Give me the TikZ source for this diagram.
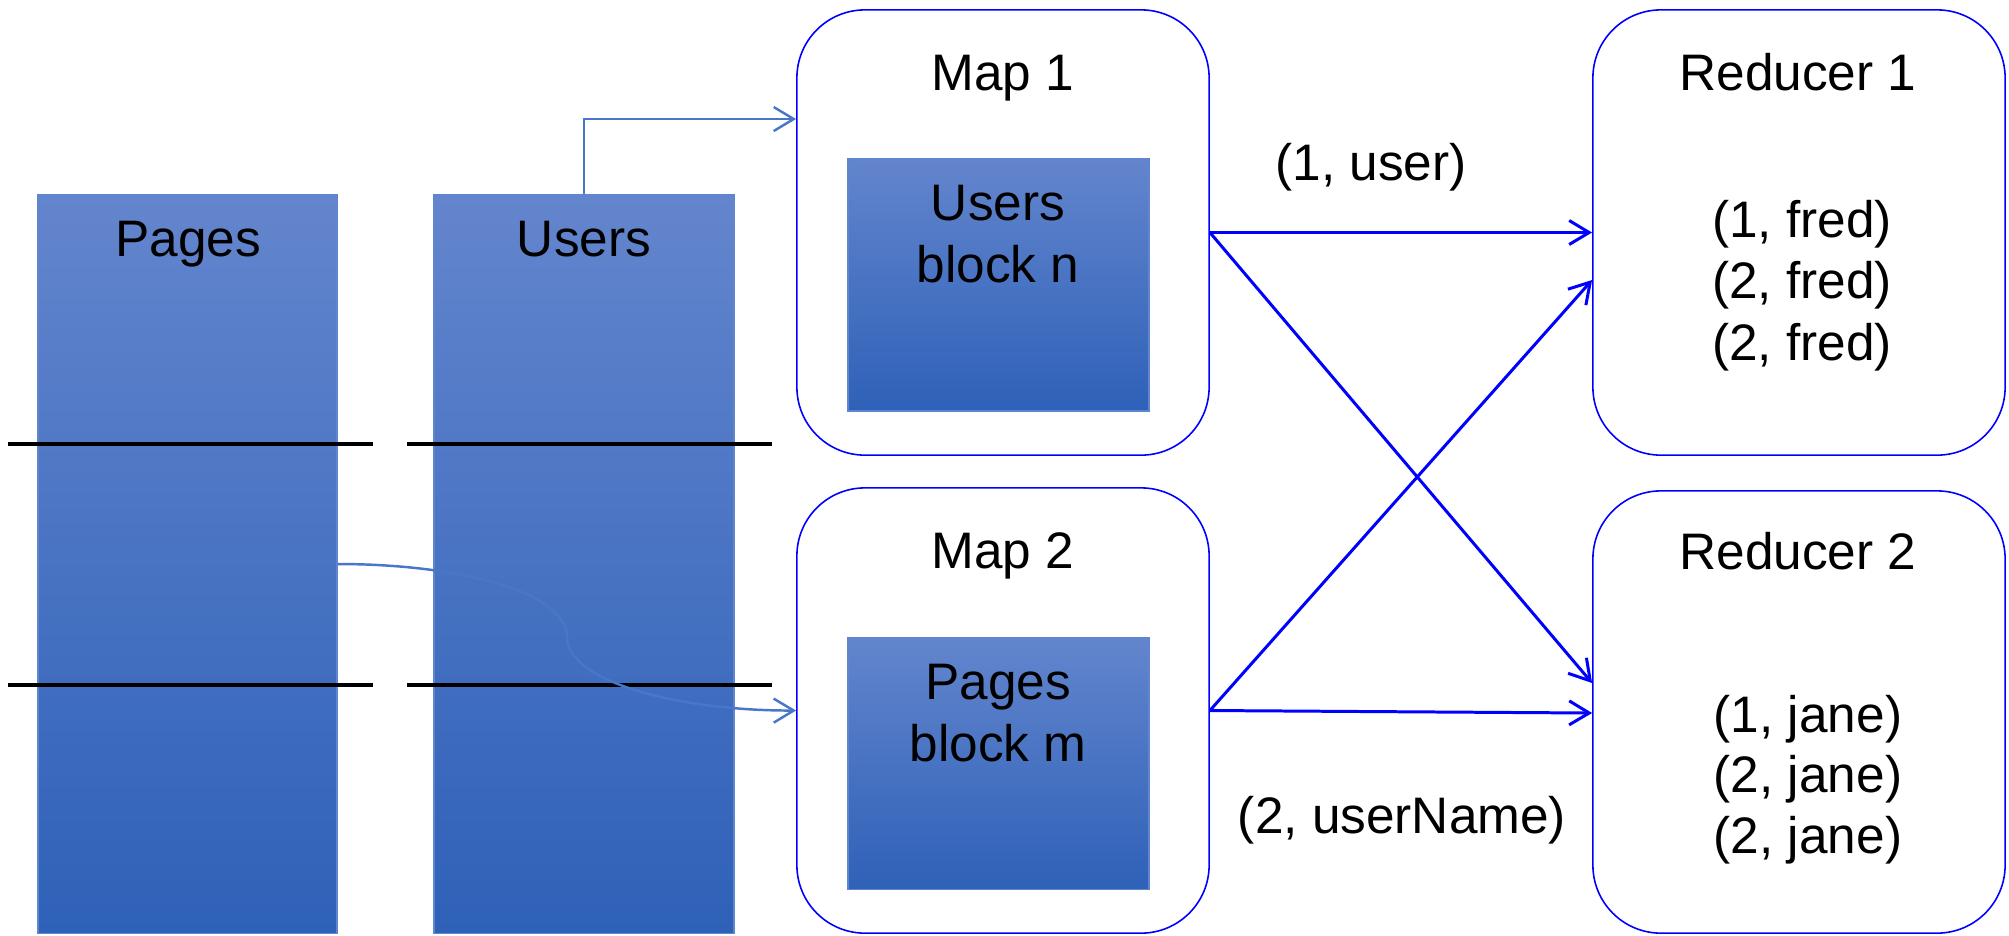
\documentclass[tikz,border=0pt]{standalone}
\usepackage{fontspec}
\setmainfont{Liberation Sans}
\usetikzlibrary{arrows.meta,calc}
\definecolor{conn}{RGB}{72,118,200}
\definecolor{gtop}{RGB}{99,133,205}
\definecolor{gmid}{RGB}{66,115,198}
\definecolor{gbot}{RGB}{46,97,184}
\definecolor{edgeb}{RGB}{95,133,207}
\begin{document}
\begin{tikzpicture}[x=0.01cm,y=-0.01cm,
  font=\fontsize{14.6pt}{17.5pt}\selectfont,
  datablk/.style={rectangle, draw=edgeb, line width=0.4pt, top color=gtop, middle color=gmid, bottom color=gbot, inner sep=0pt},
  procbox/.style={rectangle, rounded corners=0.68cm, draw=blue, line width=0.45pt, fill=white, inner sep=0pt, minimum width=4.12cm, minimum height=4.45cm},
  txt/.style={anchor=base, inner sep=0pt},
  sepline/.style={black, line width=1.1pt},
  feed/.style={draw=conn, line width=0.7pt, -{Straight Barb[length=0.2cm,width=0.24cm]}},
  shuffle/.style={draw=blue, line width=0.85pt, -{Straight Barb[length=0.2cm,width=0.24cm]}}]

\fill[white] (0,0) rectangle (2009,935);
\useasboundingbox (0,0) rectangle (2009,935);

% data tables
\node[datablk, minimum width=2.99cm, minimum height=7.38cm] (pages) at (187.5,564) {};
\node[datablk, minimum width=3.00cm, minimum height=7.38cm] (users) at (584,564) {};
\node[txt] (pagesT) at (188,256) {Pages};
\node[txt] (usersT) at (584,256) {Users};

% block separators
\draw[sepline] (8,444) -- (373,444);
\draw[sepline] (407,444) -- (772,444);
\draw[sepline] (8,685) -- (373,685);
\draw[sepline] (407,685) -- (772,685);

% mappers
\node[procbox] (map1) at (1003,232.5) {};
\node[procbox] (map2) at (1003,710.5) {};
\node[datablk, minimum width=3.01cm, minimum height=2.52cm] (in1) at (998.5,285) {};
\node[datablk, minimum width=3.01cm, minimum height=2.52cm] (in2) at (998.5,763.5) {};
\node[txt] (map1T) at (1003,90) {Map 1};
\node[txt] (map2T) at (1003,568) {Map 2};
\node[txt] (in1a) at (998,220) {Users};
\node[txt] (in1b) at (998,282) {block n};
\node[txt] (in2a) at (998,699) {Pages};
\node[txt] (in2b) at (998,761) {block m};

% reducers
\node[procbox] (red1) at (1799,232.5) {};
\node[procbox, minimum height=4.42cm] (red2) at (1799,712) {};
\node[txt] (red1T) at (1798,90) {Reducer 1};
\node[txt] (red2T) at (1798,569) {Reducer 2};
\node[txt] (f1) at (1802,237) {(1, fred)};
\node[txt] (f2) at (1802,298) {(2, fred)};
\node[txt] (f3) at (1802,360) {(2, fred)};
\node[txt] (j1) at (1808,732) {(1, jane)};
\node[txt] (j2) at (1808,792) {(2, jane)};
\node[txt] (j3) at (1808,853) {(2, jane)};

% edge labels
\node[txt] (lab1) at (1371,180) {(1, user)};
\node[txt] (lab2) at (1402,833) {(2, userName)};

% input connectors
\draw[feed] (users.north) |- ($(map1.west)+(0,-113.5)$);
\draw[feed] (pages.east) .. controls (460,564) and (567,592) .. (567,637)
                         .. controls (567,682) and (680,711) .. (map2.west);

% shuffle connectors
\draw[shuffle] (map1.east) -- (red1.west);
\draw[shuffle] (map1.east) -- ($(red2.west)+(0,-29)$);
\draw[shuffle] (map2.east) -- ($(red1.west)+(0,47.5)$);
\draw[shuffle] (map2.east) -- ($(red2.west)+(0,1)$);
\end{tikzpicture}
\end{document}
